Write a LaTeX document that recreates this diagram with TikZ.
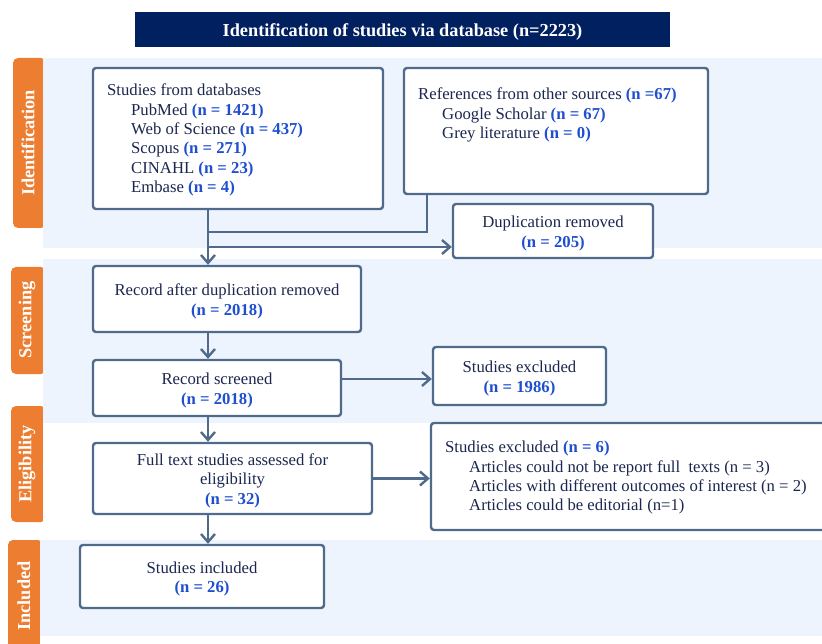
\documentclass[tikz,border=0pt]{standalone}
\usepackage{fontspec}
\setmainfont{Liberation Serif}
\usetikzlibrary{arrows.meta}
\definecolor{navy}{HTML}{002060}
\definecolor{txt}{HTML}{1C2750}
\definecolor{numblue}{HTML}{1F4FD0}
\definecolor{band}{HTML}{EEF4FD}
\definecolor{tab}{HTML}{ED7D31}
\definecolor{edge}{HTML}{506A8C}
\newcommand\nb[1]{\textcolor{numblue}{\textbf{#1}}}
\newcommand\ind{\hspace*{24pt}}
\newcommand\tup{\rule{0pt}{16.5pt}}
\tikzset{
  box/.style={draw=edge, line width=2.4pt, fill=white, rounded corners=3pt, inner sep=0pt},
  body/.style={text=txt, font=\fontsize{16.7}{19.3}\selectfont, inner sep=0pt},
  tabbox/.style={fill=tab, rounded corners=5pt},
  tablabel/.style={text=white, font=\fontsize{18.3}{20}\selectfont\bfseries, rotate=90, inner sep=0pt},
  conn/.style={draw=edge, line width=2.4pt},
  arr/.style={conn, -{Straight Barb[length=8pt,width=14pt,line width=2.4pt]}},
}
\begin{document}
\begin{tikzpicture}[x=1pt,y=-1pt]
\useasboundingbox (0,0) rectangle (822,644);
% bands
\fill[band] (43,58) rectangle (822,248);
\fill[band] (43,259) rectangle (822,423);
\fill[band] (40,540) rectangle (822,636);
% tabs
\fill[tabbox] (13,58) rectangle (46,228);
\fill[tabbox] (11,267) rectangle (46,374);
\fill[tabbox] (11,406) rectangle (46,522);
\fill[tabbox] (8,540) rectangle (43,650);
\fill[band] (43,58) rectangle (48,228);
\fill[band] (43,259) rectangle (48,423);
\fill[white] (43,423) rectangle (48,522);
\fill[band] (40,540) rectangle (48,636);
\fill[white] (40,636) rectangle (48,644);
\node[tablabel] (lid) at (28,143) {Identification};
\node[tablabel] (lsc) at (27,320) {Screening};
\node[tablabel] (lel) at (27,464) {Eligibility};
\node[tablabel] (lin) at (24,596) {Included};
% header
\node[fill=navy, minimum width=535pt, minimum height=35pt, inner sep=0pt,
      text=white, font=\fontsize{18.3}{21}\selectfont\bfseries] (hdr) at (402.5,29.5)
      {\rule{0pt}{18.5pt}Identification of studies via database (n=2223)};
% boxes
\node[box, minimum width=290pt, minimum height=141pt] (db) at (238,138.5) {};
\node[body, anchor=north west, align=left] (dbt) at (107,84)
  {Studies from databases\\
   \ind PubMed \nb{(n = 1421)}\\
   \ind Web of Science \nb{(n = 437)}\\
   \ind Scopus \nb{(n = 271)}\\
   \ind CINAHL \nb{(n = 23)}\\
   \ind Embase \nb{(n = 4)}};
\node[box, minimum width=304pt, minimum height=126pt] (refs) at (556,131) {};
\node[body, anchor=north west, align=left] (refst) at (418,88)
  {References from other sources \nb{(n =67)}\\
   \ind Google Scholar \nb{(n = 67)}\\
   \ind Grey literature \nb{(n = 0)}};
\node[box, body, minimum width=200pt, minimum height=54pt, align=center] (dup) at (553,231)
  {\tup Duplication removed\\\nb{(n = 205)}};
\node[box, body, minimum width=268pt, minimum height=66pt, align=center] (rad) at (227,299)
  {\tup Record after duplication removed\\\nb{(n = 2018)}};
\node[box, body, minimum width=248pt, minimum height=56pt, align=center] (scr) at (217,388)
  {\tup Record screened\\\nb{(n = 2018)}};
\node[box, body, minimum width=173pt, minimum height=58pt, align=center] (ex1) at (519.5,376)
  {\tup Studies excluded\\\nb{(n = 1986)}};
\node[box, body, minimum width=279pt, minimum height=71pt, align=center] (full) at (232.5,478.5)
  {\tup Full text studies assessed for\\eligibility\\\nb{(n = 32)}};
\node[box, minimum width=400pt, minimum height=107pt] (ex2) at (631,476.5) {};
\node[body, anchor=north west, align=left] (ex2t) at (445,441)
  {Studies excluded \nb{(n = 6)}\\
   \ind Articles could not be report full\ \ texts (n = 3)\\
   \ind Articles with different outcomes of interest (n = 2)\\
   \ind Articles could be editorial (n=1)};
\node[box, body, minimum width=244pt, minimum height=63pt, align=center] (inc) at (202,576.5)
  {\tup Studies included\\\nb{(n = 26)}};
% connectors
\coordinate (mx) at (208,0);
\coordinate (rj) at (427,232);
\coordinate (dj) at (208,247);
\draw[conn] (refs.south -| rj) -- (rj) -- (rj -| mx);
\draw[arr] (db.south -| mx) -- (rad.north -| mx);
\draw[arr] (dj) -- (dj -| dup.west);
\draw[arr] (rad.south -| mx) -- (scr.north -| mx);
\draw[arr] ([yshift=9pt]scr.east) coordinate (s1) -- (s1 -| ex1.west);
\draw[arr] (scr.south -| mx) -- (full.north -| mx);
\draw[arr] (full.east) -- (full.east -| ex2.west);
\draw[arr] (full.south -| mx) -- (inc.north -| mx);
\end{tikzpicture}
\end{document}
